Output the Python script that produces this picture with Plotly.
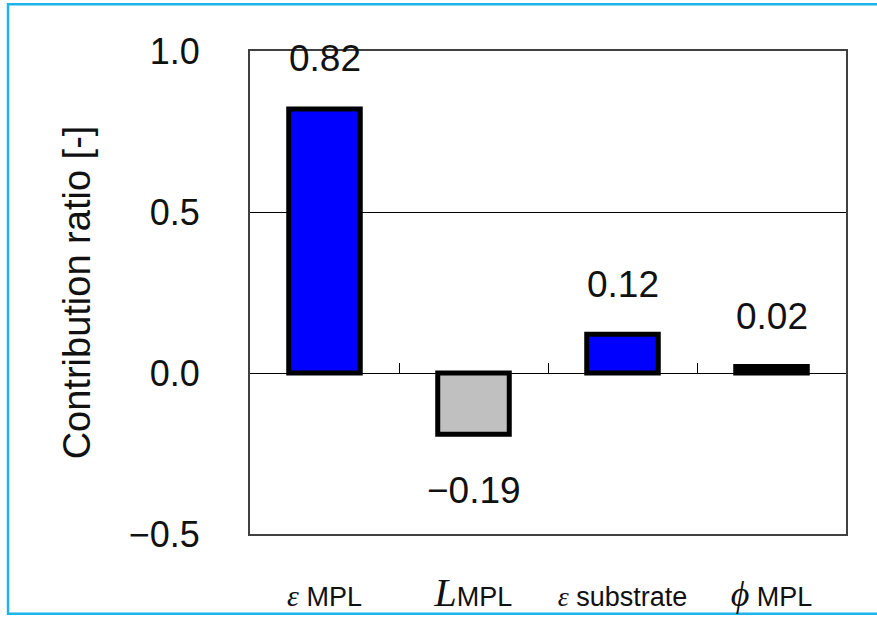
import plotly.graph_objects as go

# Contribution of each parameter
categories = ["eps_MPL", "L_MPL", "eps_substrate", "phi_MPL"]
tick_labels = [
    "<span style='font-family:Liberation Serif;font-size:30px'><i>ε</i></span> MPL",
    "<span style='font-family:Liberation Serif;font-size:40px'><i>L</i></span>MPL",
    "<span style='font-family:Liberation Serif;font-size:28px'><i>ε</i></span> substrate",
    "<span style='font-family:Liberation Serif;font-size:36px'><i>ϕ</i></span> MPL",
]
ratios = [0.82, -0.19, 0.12, 0.02]
bar_colors = ["#0000ff", "#c0c0c0", "#0000ff", "#000000"]

y_ticks = [-0.5, 0.0, 0.5, 1.0]
y_tick_text = ["−0.5", "0.0", "0.5", "1.0"]

font_main = "Liberation Sans, Arial, sans-serif"
xs = list(range(len(categories)))

fig = go.Figure()
fig.add_trace(go.Bar(
    x=xs, y=ratios, width=0.48,
    marker=dict(color=bar_colors, line=dict(color="#000000", width=5)),
    hoverinfo="skip", showlegend=False,
))

# value labels above / below each bar
for i, v in enumerate(ratios):
    fig.add_annotation(
        x=i, y=v, text=f"{v:.2f}".replace("-", "−"),
        showarrow=False, yshift=50 if v >= 0 else -56,
        font=dict(family=font_main, size=37, color="#111111"),
    )

# outer frame of the figure
fig.add_shape(type="rect", xref="paper", yref="paper",
              x0=-0.406, x1=1.06, y0=-0.165, y1=1.097,
              line=dict(color="#1db4ea", width=2.5), fillcolor="rgba(0,0,0,0)", layer="below")

fig.update_layout(
    width=877, height=627,
    margin=dict(l=250, r=31, t=51, b=84),
    paper_bgcolor="white", plot_bgcolor="white",
    font=dict(family=font_main, color="#111111"),
    bargap=0.5,
    xaxis=dict(
        range=[-0.5, 3.5], tickvals=xs, ticktext=tick_labels,
        showgrid=False, zeroline=False, ticks="",
        showline=True, linecolor="#404040", linewidth=2, mirror=True,
        tickfont=dict(family=font_main, size=27, color="#111111"),
        ticklabelstandoff=38,
    ),
    # short separators between categories on the zero line
    xaxis2=dict(
        range=[-0.5, 3.5], overlaying="x", anchor="free", position=1 / 3,
        side="bottom", tickvals=[0.5, 1.5, 2.5], ticks="inside", ticklen=10,
        tickcolor="#000000", tickwidth=1, showticklabels=False,
        showgrid=False, zeroline=False, showline=False,
    ),
    yaxis=dict(
        range=[-0.5, 1.0], tickvals=y_ticks, ticktext=y_tick_text,
        showgrid=True, gridcolor="#000000", gridwidth=1,
        zeroline=True, zerolinecolor="#000000", zerolinewidth=1,
        showline=True, linecolor="#404040", linewidth=2, mirror=True,
        ticks="", ticklabelstandoff=41,
        tickfont=dict(family=font_main, size=36, color="#111111"),
        title=dict(text="Contribution ratio [-]", standoff=26,
                   font=dict(family=font_main, size=38, color="#111111")),
    ),
)
# invisible trace to activate the separator axis
fig.add_trace(go.Scatter(x=[0.5], y=[0], xaxis="x2", mode="markers",
                         marker=dict(opacity=0), hoverinfo="skip", showlegend=False))

fig.write_html("out.html")
